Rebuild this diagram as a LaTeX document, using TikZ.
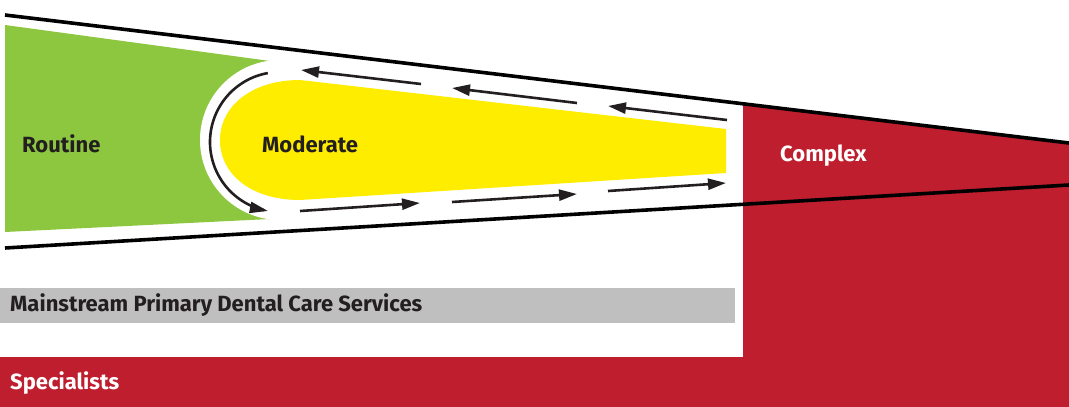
\documentclass[tikz,border=0pt]{standalone}
\usepackage{fontspec}
\setmainfont{Fira Sans}
\usetikzlibrary{arrows.meta}
\definecolor{cgreen}{HTML}{8DC63F}
\definecolor{cyellow}{HTML}{FFED00}
\definecolor{cred}{HTML}{BE1E2D}
\definecolor{cgray}{HTML}{BFBFBF}
\definecolor{ctext}{HTML}{231F20}
\tikzset{
  flow/.style={line width=2.6pt, draw=ctext, -{Triangle[length=18pt,width=11pt]}},
  outline/.style={line width=3.6pt, draw=black},
  lbl/.style={font=\bfseries\fontsize{22}{26}\selectfont, text=ctext, inner sep=0pt, anchor=west},
  wlbl/.style={lbl, text=white},
}
\begin{document}
\begin{tikzpicture}[x=1pt,y=-1pt]
\useasboundingbox (0,0) rectangle (1069,407);
% red region
\fill[cred] (743,103.8) -- (1069,143) -- (1069,407) -- (0,407) -- (0,357) -- (743,357) -- cycle;
% gray bar
\fill[cgray] (0,288) rectangle (735,323);
% green region
\fill[cgreen] (5,25) -- (270,61) -- (270,219) -- (5,232) -- cycle;
\fill[white] (280,140) circle[radius=80];
% yellow shape
\fill[cyellow] (726,129) -- (300,80) .. controls (252,80) and (220,106) .. (220,140)
  .. controls (220,175) and (252,200) .. (300,200) -- (726,173) -- cycle;
% outline lines
\draw[outline] (5,15) -- (1069,143);
\draw[outline] (5,248) -- (1069,185);
% arc arrow
\draw[flow] plot[domain=260:100, smooth, samples=40, variable=\t] ({280+70*cos(\t)},{142+70*sin(\t)});
% top arrows (leftward)
\coordinate (t1s) at (421,84);  \coordinate (t1e) at (301,70);
\coordinate (t2s) at (577,103); \coordinate (t2e) at (452,88);
\coordinate (t3s) at (727,120); \coordinate (t3e) at (608,106);
\draw[flow] (t1s) -- (t1e);
\draw[flow] (t2s) -- (t2e);
\draw[flow] (t3s) -- (t3e);
% bottom arrows (rightward)
\coordinate (b1s) at (300,211); \coordinate (b1e) at (420,203);
\coordinate (b2s) at (452,202); \coordinate (b2e) at (577,194);
\coordinate (b3s) at (608,191); \coordinate (b3e) at (726,183);
\draw[flow] (b1s) -- (b1e);
\draw[flow] (b2s) -- (b2e);
\draw[flow] (b3s) -- (b3e);
% labels
\node[lbl] (routine) at (22,144) {Routine};
\node[lbl] (moderate) at (262,144) {Moderate};
\node[wlbl] (complex) at (780,156) {Complex};
\node[lbl] (mainstream) at (10,305.5) {Mainstream Primary Dental Care Services};
\node[wlbl] (specialists) at (10,383) {Specialists};
\end{tikzpicture}
\end{document}
